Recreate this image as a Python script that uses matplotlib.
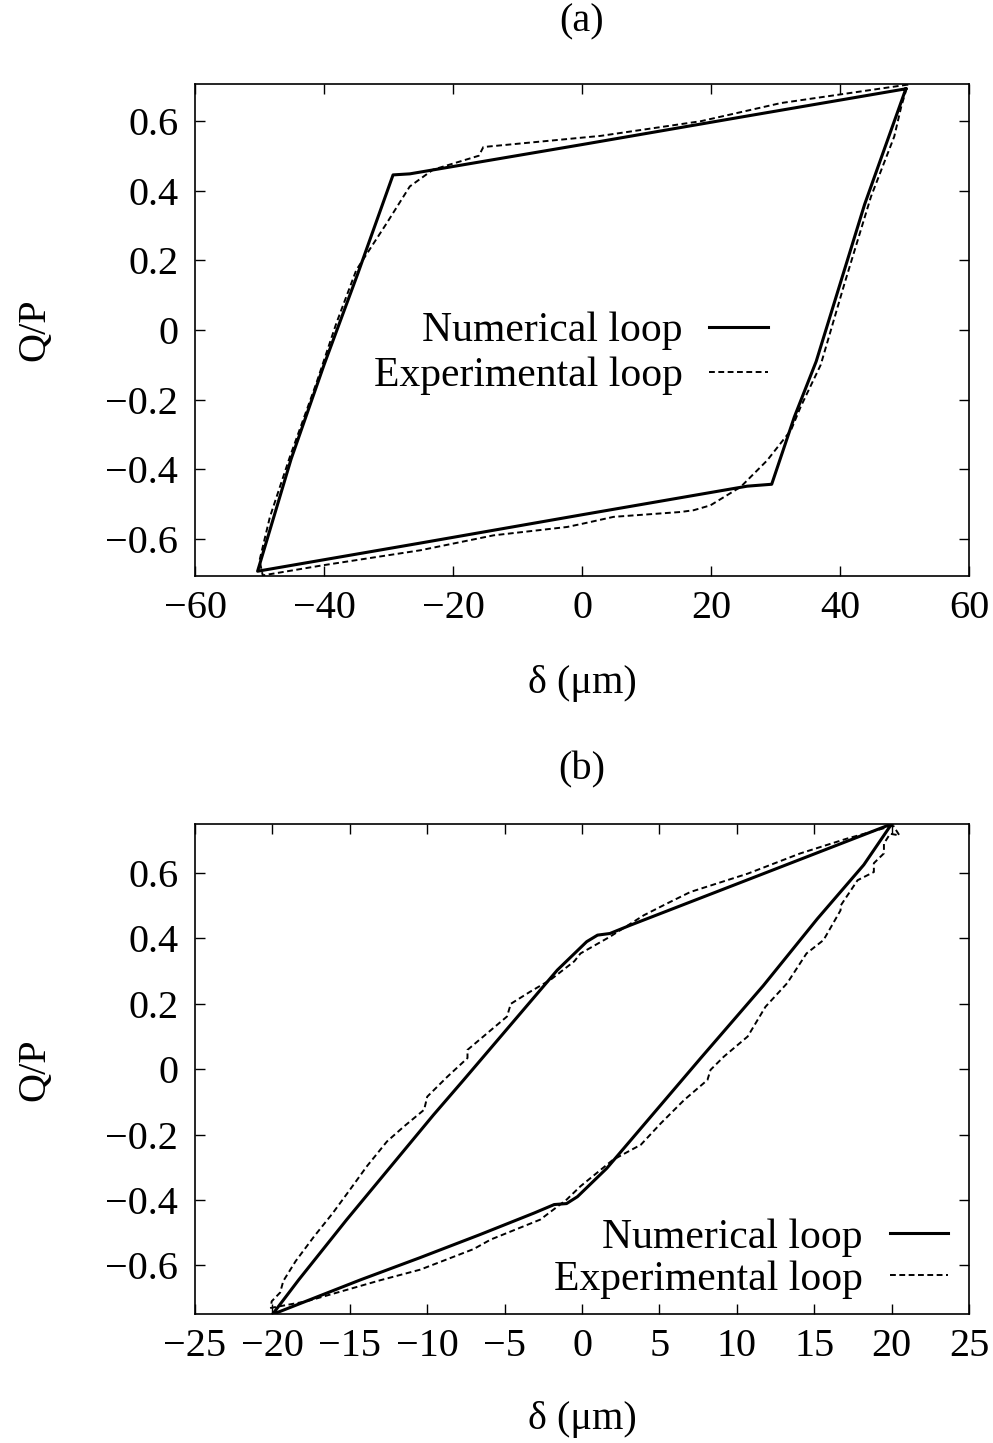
import matplotlib
matplotlib.use('Agg')
import matplotlib.pyplot as plt

plt.rcParams['font.family'] = ['Liberation Serif', 'DejaVu Serif']

# (a) numerical loop
num_a_x = [50.2, 25.0, 0.0, -26.7, -29.3, -34.8, -40.0, -45.1, -50.3,
           -25.0, 0.0, 25.6, 29.4, 32.9, 36.3, 43.8, 50.2]
num_a_y = [0.692, 0.612, 0.532, 0.448, 0.445, 0.16, -0.10, -0.37, -0.692,
           -0.611, -0.530, -0.448, -0.4425, -0.25, -0.09, 0.36, 0.692]

# (a) experimental loop
exp_a_x = [50.5, 30.8, 18.4, 2.9, -15.3, -16.0, -23.1, -26.7, -30.3, -35.0,
           -38.1, -41.2, -45.3, -48.4, -50.0, -49.5,
           -40.2, -25.1, -13.7, -2.3, 0.0, 4.9, 15.3, 17.3, 19.9, 24.6, 28.7,
           32.4, 33.9, 37.0, 40.7, 44.8, 48.4, 49.5, 50.5]
exp_a_y = [0.704, 0.651, 0.599, 0.557, 0.525, 0.50, 0.46, 0.412, 0.306, 0.172,
           0.019, -0.153, -0.364, -0.537, -0.661, -0.704,
           -0.675, -0.632, -0.589, -0.565, -0.556, -0.536, -0.522, -0.517, -0.503,
           -0.45, -0.374, -0.287, -0.22, -0.10, 0.134, 0.383, 0.555, 0.642, 0.704]

# (b) numerical loop
num_b_x = [20.0, 11.5, 3.1, 1.8, 1.0, 0.3, -1.6, -7.65, -9.6, -15.2, -18.3, -20.0,
           -14.3, -10.5, -6.6, -3.1, -1.8, -1.0, -0.3, 1.6, 7.65, 11.7, 15.2, 18.2, 20.0]
num_b_y = [0.75, 0.594, 0.44, 0.415, 0.41, 0.39, 0.303, -0.033, -0.14, -0.46, -0.644, -0.75,
           -0.644, -0.577, -0.506, -0.44, -0.414, -0.411, -0.39, -0.303, 0.033, 0.255,
           0.46, 0.625, 0.75]

# (b) experimental loop
exp_b_x = [20.1, 17.1, 14.1, 10.7, 7.0, 5.5, 4.0, 1.8, -0.1, -0.5, -2.05, -3.35,
           -4.6, -4.85, -7.4, -7.4, -8.7, -10.0, -10.2, -11.5, -12.6, -13.9, -15.0,
           -16.1, -17.3, -18.5, -19.3, -19.5, -20.05, -20.1,
           -17.8, -13.0, -10.45, -7.0, -5.9, -2.7, -1.0, -0.1, 2.0, 3.8, 5.1, 6.6,
           8.1, 8.3, 9.15, 10.7, 11.85, 13.25, 14.5, 15.6, 16.7, 16.7, 17.8, 18.85,
           18.85, 19.5, 19.5, 19.9, 20.5, 20.1]
exp_b_y = [0.745, 0.705, 0.66, 0.598, 0.542, 0.507, 0.471, 0.405, 0.354, 0.33,
           0.273, 0.237, 0.2, 0.161, 0.059, 0.034, -0.023, -0.084, -0.124, -0.175,
           -0.221, -0.297, -0.369, -0.44, -0.511, -0.587, -0.648, -0.683, -0.71, -0.73,
           -0.71, -0.645, -0.613, -0.55, -0.521, -0.46, -0.399, -0.358, -0.277, -0.231,
           -0.165, -0.094, -0.033, -0.002, 0.038, 0.1, 0.191, 0.263, 0.354, 0.395,
           0.486, 0.5, 0.578, 0.603, 0.63, 0.66, 0.69, 0.72, 0.715, 0.745]

xticks_a = [-60, -40, -20, 0, 20, 40, 60]
yticks_a = [-0.6, -0.4, -0.2, 0, 0.2, 0.4, 0.6]
xticks_b = [-25, -20, -15, -10, -5, 0, 5, 10, 15, 20, 25]
yticks_b = [-0.6, -0.4, -0.2, 0, 0.2, 0.4, 0.6]

FS = 29
LEG_FS = 30


def fmt(v):
    s = '%g' % v
    return s.replace('-', '\u2212')


def setup(ax, xt, yt, xlim, ylim, title, title_y, xlab_y):
    ax.set_xlim(*xlim)
    ax.set_ylim(*ylim)
    ax.set_xticks(xt)
    ax.set_xticklabels([fmt(v) for v in xt])
    ax.set_yticks(yt)
    ax.set_yticklabels([fmt(v) for v in yt])
    ax.tick_params(direction='in', top=True, right=True, length=7, width=1,
                   labelsize=FS)
    ax.tick_params(axis='x', pad=10)
    ax.tick_params(axis='y', pad=12)
    for sp in ax.spines.values():
        sp.set_linewidth(1.2)
    ax.set_xlabel('δ (μm)', fontsize=FS, va='center')
    ax.xaxis.set_label_coords(0.5, xlab_y)
    ax.set_ylabel('Q/P', fontsize=FS, va='center')
    ax.yaxis.set_label_coords(-0.207, 0.5)
    ax.text(0.5, title_y, title, transform=ax.transAxes, ha='center',
            va='center', fontsize=FS)


fig = plt.figure(figsize=(9.93, 14.43), dpi=100)
ax1 = fig.add_axes([0.1964, 0.6010, 0.7795, 0.3406])
ax2 = fig.add_axes([0.1964, 0.0891, 0.7795, 0.3399])

for ax, nx, ny, ex, ey in [(ax1, num_a_x, num_a_y, exp_a_x, exp_a_y),
                           (ax2, num_b_x, num_b_y, exp_b_x, exp_b_y)]:
    ax.plot(nx, ny, color='black', lw=2.2, label='Numerical loop')
    ax.plot(ex, ey, color='black', lw=1.4, dashes=(3, 1.8),
            label='Experimental loop')

setup(ax1, xticks_a, yticks_a, (-60, 60), (-0.705, 0.705), '(a)', 1.127, -0.219)
setup(ax2, xticks_b, yticks_b, (-25, 25), (-0.75, 0.75), '(b)', 1.110, -0.215)

ax1.legend(loc='center right', bbox_to_anchor=(0.740, 0.452), frameon=False,
           markerfirst=False, fontsize=LEG_FS, handlelength=1.4, handletextpad=0.65,
           borderpad=0, borderaxespad=0, labelspacing=0.15)
ax2.legend(loc='center right', bbox_to_anchor=(0.973, 0.114), frameon=False,
           markerfirst=False, fontsize=LEG_FS, handlelength=1.4, handletextpad=0.65,
           borderpad=0, borderaxespad=0, labelspacing=0.08)

fig.savefig('out.png', dpi=100)
